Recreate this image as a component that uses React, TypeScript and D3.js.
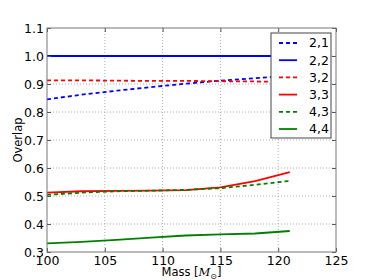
import * as d3 from "d3";
import { useEffect, useRef } from "react";

const masses = [100, 103, 106, 109, 112, 115, 118, 121];
const s21 = [0.845, 0.862, 0.876, 0.889, 0.901, 0.912, 0.921, 0.929];
const s22 = [1.0, 1.0, 1.0, 1.0, 1.0, 1.0, 1.0, 1.0];
const s32 = [0.913, 0.913, 0.912, 0.911, 0.911, 0.91, 0.909, 0.908];
const s33 = [0.512, 0.517, 0.518, 0.519, 0.521, 0.531, 0.553, 0.585];
const s43 = [0.504, 0.512, 0.517, 0.519, 0.522, 0.528, 0.54, 0.554];
const s44 = [0.331, 0.336, 0.343, 0.351, 0.359, 0.363, 0.366, 0.375];

const seriesNames = ["2,1", "2,2", "3,2", "3,3", "4,3", "4,4"];
const seriesValues = [s21, s22, s32, s33, s43, s44];
const seriesColors = ["#0000ff", "#0000ff", "#ff0000", "#ff0000", "#008000", "#008000"];
const seriesDashed = [true, false, true, false, true, false];

const xTicks = [100, 105, 110, 115, 120, 125];
const yTicks = [0.3, 0.4, 0.5, 0.6, 0.7, 0.8, 0.9, 1.0, 1.1];

export default function App() {
  const svgRef = useRef<SVGSVGElement>(null);
  const width = 374;
  const height = 280;
  const margin = { top: 28, right: 38, bottom: 28, left: 47 };

  useEffect(() => {
    const svg = d3.select(svgRef.current);
    svg.selectAll("*").remove();
    const innerW = width - margin.left - margin.right;
    const innerH = height - margin.top - margin.bottom;

    const x = d3.scaleLinear().domain([100, 125]).range([0, innerW]);
    const y = d3.scaleLinear().domain([0.3, 1.1]).range([innerH, 0]);

    const g = svg.append("g").attr("transform", `translate(${margin.left},${margin.top})`);

    // grid
    g.selectAll("line.gx")
      .data(xTicks.slice(1, -1))
      .enter()
      .append("line")
      .attr("x1", (d) => x(d))
      .attr("x2", (d) => x(d))
      .attr("y1", 0)
      .attr("y2", innerH)
      .attr("stroke", "#999")
      .attr("stroke-width", 0.8)
      .attr("stroke-dasharray", "1,2");
    g.selectAll("line.gy")
      .data(yTicks.slice(1, -1))
      .enter()
      .append("line")
      .attr("x1", 0)
      .attr("x2", innerW)
      .attr("y1", (d) => y(d))
      .attr("y2", (d) => y(d))
      .attr("stroke", "#999")
      .attr("stroke-width", 0.8)
      .attr("stroke-dasharray", "1,2");

    // lines
    const line = d3
      .line<number>()
      .x((_, i) => x(masses[i]))
      .y((d) => y(d));
    seriesValues.forEach((vals, k) => {
      g.append("path")
        .datum(vals)
        .attr("fill", "none")
        .attr("stroke", seriesColors[k])
        .attr("stroke-width", 1.8)
        .attr("stroke-dasharray", seriesDashed[k] ? "4,3" : null)
        .attr("d", line);
    });

    // axes
    const ax = g.append("g").attr("transform", `translate(0,${innerH})`)
      .call(d3.axisBottom(x).tickValues(xTicks).tickSize(-4).tickPadding(4).tickFormat(d3.format("d")));
    const ay = g.append("g")
      .call(d3.axisLeft(y).tickValues(yTicks).tickSize(-4).tickPadding(3).tickFormat(d3.format(".1f")));
    g.append("g").attr("transform", `translate(${innerW},0)`)
      .call(d3.axisRight(y).tickValues(yTicks).tickSize(-4).tickFormat(() => ""));
    g.append("g")
      .call(d3.axisTop(x).tickValues(xTicks).tickSize(-4).tickFormat(() => ""));
    g.selectAll(".domain").remove();
    g.selectAll(".tick line").attr("stroke", "#555");
    [ax, ay].forEach((a) =>
      a.selectAll("text").attr("font-family", "DejaVu Sans").attr("font-size", 12.5).attr("fill", "#000")
    );

    g.append("rect")
      .attr("width", innerW)
      .attr("height", innerH)
      .attr("fill", "none")
      .attr("stroke", "#777")
      .attr("stroke-width", 1);

    // legend
    const lg = g.append("g").attr("transform", `translate(${271 - margin.left},${33 - margin.top})`);
    lg.append("rect")
      .attr("width", 60)
      .attr("height", 105)
      .attr("fill", "#fff")
      .attr("stroke", "#444")
      .attr("stroke-width", 1);
    seriesNames.forEach((name, k) => {
      const yy = 10 + k * 17.2;
      lg.append("line")
        .attr("x1", 8)
        .attr("x2", 26)
        .attr("y1", yy)
        .attr("y2", yy)
        .attr("stroke", seriesColors[k])
        .attr("stroke-width", 1.8)
        .attr("stroke-dasharray", seriesDashed[k] ? "4,3" : null);
      lg.append("text")
        .attr("x", 38)
        .attr("y", yy)
        .attr("dy", "0.35em")
        .attr("font-family", "DejaVu Sans")
        .attr("font-size", 12.5)
        .text(name);
    });

    // axis labels
    const xl = svg.append("text")
      .attr("x", margin.left + innerW / 2)
      .attr("y", 276)
      .attr("text-anchor", "middle")
      .attr("font-family", "DejaVu Sans")
      .attr("font-size", 11.5);
    xl.append("tspan").text("Mass [");
    xl.append("tspan").attr("font-family", "DejaVu Serif").attr("font-style", "italic").text("M");
    xl.append("tspan").attr("font-size", 8).attr("dy", 3).text("⊙");
    xl.append("tspan").attr("dy", -3).text("]");

    svg.append("text")
      .attr("transform", `translate(22,${margin.top + innerH / 2}) rotate(-90)`)
      .attr("text-anchor", "middle")
      .attr("font-family", "DejaVu Sans")
      .attr("font-size", 11.5)
      .text("Overlap");
  }, []);

  return (
    <svg
      ref={svgRef}
      width={width}
      height={height}
      style={{ position: "absolute", left: 0, top: 0, background: "#fff" }}
    />
  );
}
